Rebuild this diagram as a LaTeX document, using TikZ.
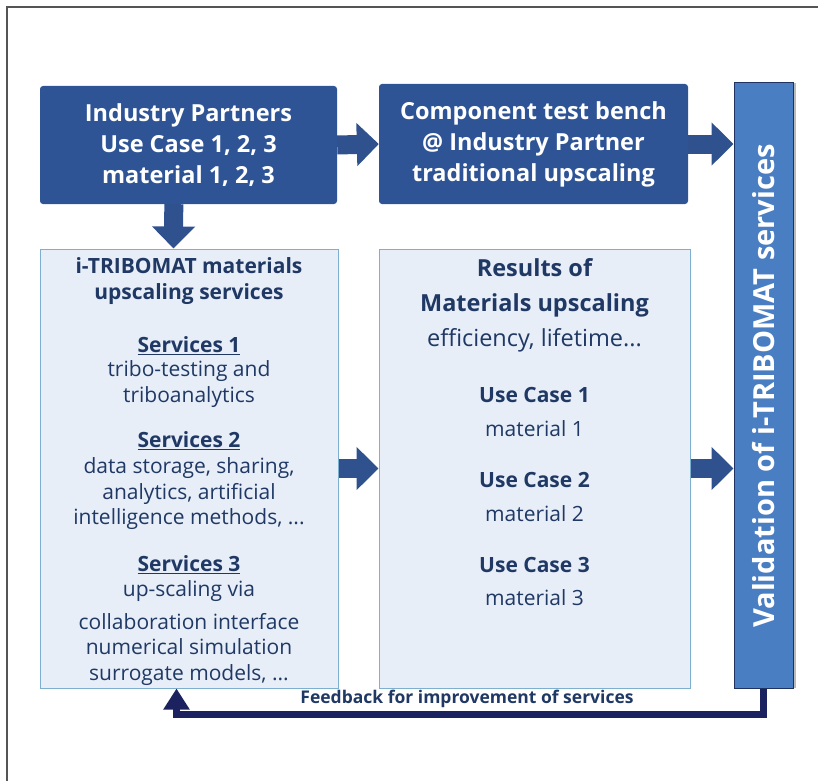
\documentclass[tikz,border=0pt]{standalone}
\usepackage{fontspec}
\setmainfont{Open Sans}
\usetikzlibrary{arrows.meta,shadows}

\definecolor{partnerblue}{HTML}{2E5496}
\definecolor{arrowblue}{HTML}{2F528F}
\definecolor{validfill}{HTML}{4A7EC3}
\definecolor{validborder}{HTML}{1E3264}
\definecolor{paleblue}{HTML}{E7EEF8}
\definecolor{paleborder}{HTML}{7DB0CF}
\definecolor{navytext}{HTML}{1F3864}
\definecolor{feedbackblue}{HTML}{1C2260}
\definecolor{framegrey}{HTML}{555555}

\begin{document}
\begin{tikzpicture}[x=1pt,y=-1pt,
  darkbox/.style={rectangle,rounded corners=3pt,fill=partnerblue,draw=none,inner sep=0pt},
  palebox/.style={rectangle,fill=paleblue,draw=paleborder,line width=1pt,inner sep=0pt},
  darktext/.style={text=white,font=\bfseries\fontsize{23.5}{31}\selectfont,align=center},
  headtext/.style={text=navytext,font=\bfseries\fontsize{21}{26}\selectfont,align=center},
  bodytext/.style={text=navytext,font=\fontsize{21}{25.5}\selectfont,align=center},
  bighead/.style={text=navytext,font=\bfseries\fontsize{23.5}{28}\selectfont,align=center},
  bigbody/.style={text=navytext,font=\fontsize{23.5}{28}\selectfont,align=center},
  blockarrow/.style={draw=arrowblue,line width=19pt,-{Triangle[length=22pt,width=42pt]}},
  fbarrow/.style={draw=feedbackblue,line width=7pt,-{Triangle[length=21pt,width=25pt]}}]

  \useasboundingbox (0,0) rectangle (818,781);
  \draw[framegrey,line width=1.5pt] (7,781) -- (7,7) -- (818,7);

  % top row
  \node[darkbox,minimum width=297pt,minimum height=118pt] (partners) at (188.5,145) {};
  \node[darkbox,minimum width=309pt,minimum height=120pt] (bench) at (533.5,144) {};
  \node[darktext] (partnerstxt) at (partners) {Industry Partners\\Use Case 1, 2, 3\\material 1, 2, 3};
  \node[darktext] (benchtxt) at (bench) {Component test bench\\@ Industry Partner\\traditional upscaling};

  % validation bar
  \node[rectangle,fill=validfill,draw=validborder,line width=1pt,
    drop shadow={shadow xshift=3pt,shadow yshift=0pt,fill=black!45,opacity=.6},
    minimum width=59pt,minimum height=605pt,inner sep=0pt] (valid) at (763.5,385.5) {};
  \node[rotate=90,text=white,font=\bfseries\fontsize{29}{34}\selectfont] (validtxt) at (764,386)
    {Validation of i-TRIBOMAT services};

  % lower row
  \node[palebox,minimum width=298pt,minimum height=439pt] (services) at (189,468.5) {};
  \node[palebox,minimum width=311pt,minimum height=439pt] (results) at (534.5,468.5) {};

  \node[headtext] (srvhead) at (189,281) {i-TRIBOMAT materials\\upscaling services};
  \node[headtext] (srv1head) at (189,346) {\underline{Services 1}};
  \node[bodytext] (srv1txt) at (189,384) {tribo-testing and\\triboanalytics};
  \node[headtext] (srv2head) at (189,441) {\underline{Services 2}};
  \node[bodytext] (srv2txt) at (189,494) {data storage, sharing,\\analytics, artificial\\intelligence methods, ...};
  \node[headtext] (srv3head) at (189,565) {\underline{Services 3}};
  \node[bodytext] (srv3via) at (189,591) {up-scaling via};
  \node[bodytext] (srv3txt) at (189,649) {collaboration interface\\numerical simulation\\surrogate models, ...};

  \node[bighead] (reshead) at (534.5,268) {Results of};
  \node[bighead] (resup) at (534.5,305) {Materials upscaling};
  \node[bigbody] (reseff) at (534.5,340) {efficiency, lifetime...};
  \node[headtext] (case1) at (534.5,395) {Use Case 1};
  \node[bodytext] (mat1) at (534.5,429) {material 1};
  \node[headtext] (case2) at (534.5,480) {Use Case 2};
  \node[bodytext] (mat2) at (534.5,514) {material 2};
  \node[headtext] (case3) at (534.5,565) {Use Case 3};
  \node[bodytext] (mat3) at (534.5,598) {material 3};

  % block arrows
  \draw[blockarrow] (partners.east) -- (bench.west);
  \draw[blockarrow] (bench.east) -- (valid.west |- bench.east);
  \draw[blockarrow] ([xshift=134pt]partners.south west) -- ([xshift=134pt]services.north west);
  \draw[blockarrow] (services.east) -- (results.west);
  \draw[blockarrow] (results.east) -- (valid.west |- results.east);

  % feedback loop
  \draw[fbarrow] (valid.south) |- ([xshift=137pt,yshift=-26pt]services.south west)
    -- ([xshift=137pt]services.south west);
  \node[text=navytext,font=\bfseries\fontsize{17.5}{20}\selectfont] (fbtxt) at (467,699)
    {Feedback for improvement of services};
\end{tikzpicture}
\end{document}
